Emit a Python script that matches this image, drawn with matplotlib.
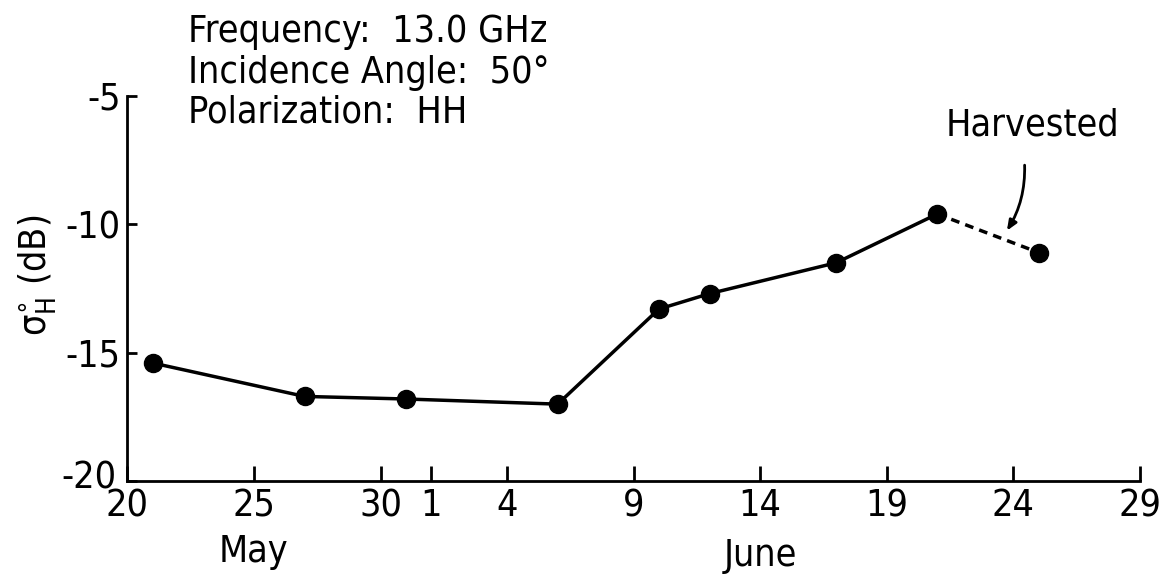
import numpy as np
import matplotlib.pyplot as plt
from matplotlib.transforms import ScaledTranslation

plt.rcParams['font.family'] = ['DejaVu Sans']
plt.rcParams['font.stretch'] = 'condensed'
plt.rcParams['mathtext.fontset'] = 'dejavusans'

# measurement dates (1974 season) and backscatter
dates = ["05-21", "05-27", "05-31", "06-06", "06-10", "06-12", "06-17", "06-21", "06-25"]
sigma = [-15.4, -16.7, -16.8, -17.0, -13.3, -12.7, -11.5, -9.6, -11.1]
n_before_harvest = 8

tick_dates = ["05-20", "05-25", "05-30", "06-01", "06-04", "06-09", "06-14", "06-19", "06-24", "06-29"]
tick_labels = ["20", "25", "30", "1", "4", "9", "14", "19", "24", "29"]
yticks = [-5, -10, -15, -20]

start = np.datetime64("1974-05-20")
def days(ds):
    return np.array([(np.datetime64("1974-" + d) - start).astype(int) for d in ds])

x = days(dates)
xt = days(tick_dates)

fig = plt.figure(figsize=(11.69, 5.77), dpi=100)
ax = fig.add_axes([0.109, 0.166, 0.866, 0.668])

# solid line up to harvest, dashed after
ax.plot(x[:n_before_harvest], sigma[:n_before_harvest], color='black', lw=2.5,
        marker='o', ms=13, mfc='black', mec='black')
ax.plot(x[n_before_harvest - 1:], sigma[n_before_harvest - 1:], color='black', lw=2.5,
        ls=(0, (2.5, 1.8)), marker='o', ms=13, markevery=[1])

ax.set_xlim(0, 40)
ax.set_ylim(-20, -5)
ax.set_xticks(xt)
ax.set_xticklabels(tick_labels)
ax.set_yticks(yticks)
ax.set_yticklabels(["-5", "-10", "-15", "-20"])
ax.tick_params(axis='x', direction='in', length=11, width=2, labelsize=27, pad=5)
ax.tick_params(axis='y', direction='in', length=7, width=2, labelsize=27, pad=5)
lab20 = ax.get_yticklabels()[-1]
lab20.set_transform(lab20.get_transform() + ScaledTranslation(-0.04, 0.07, fig.dpi_scale_trans))

for s in ['top', 'right']:
    ax.spines[s].set_visible(False)
for s in ['left', 'bottom']:
    ax.spines[s].set_linewidth(2)

ax.set_ylabel(r'σ$_{\mathregular{H}}^{\circ}$ (dB)', fontsize=27)
ax.yaxis.set_label_coords(-0.068, 0.535)

# month names under the day numbers
ax.text(days(["05-25"])[0], -22.75, "May", fontsize=27, ha='center', va='center')
ax.text(days(["06-14"])[0], -22.9, "June", fontsize=27, ha='center', va='center')

fig.text(0.161, 0.945, "Frequency:  13.0 GHz", fontsize=27, va='center')
fig.text(0.161, 0.873, "Incidence Angle:  50°", fontsize=27, va='center')
fig.text(0.161, 0.805, "Polarization:  HH", fontsize=27, va='center')

ax.text(39.2, -6.15, "Harvested", fontsize=27, ha='right', va='center')
ax.annotate("", xy=(34.75, -10.25), xytext=(35.45, -7.7),
            arrowprops=dict(arrowstyle='-|>,head_length=0.6,head_width=0.25', color='black', lw=2,
                            connectionstyle='arc3,rad=-0.15', shrinkA=0, shrinkB=0))

fig.savefig("out.png", dpi=100, facecolor='white')
